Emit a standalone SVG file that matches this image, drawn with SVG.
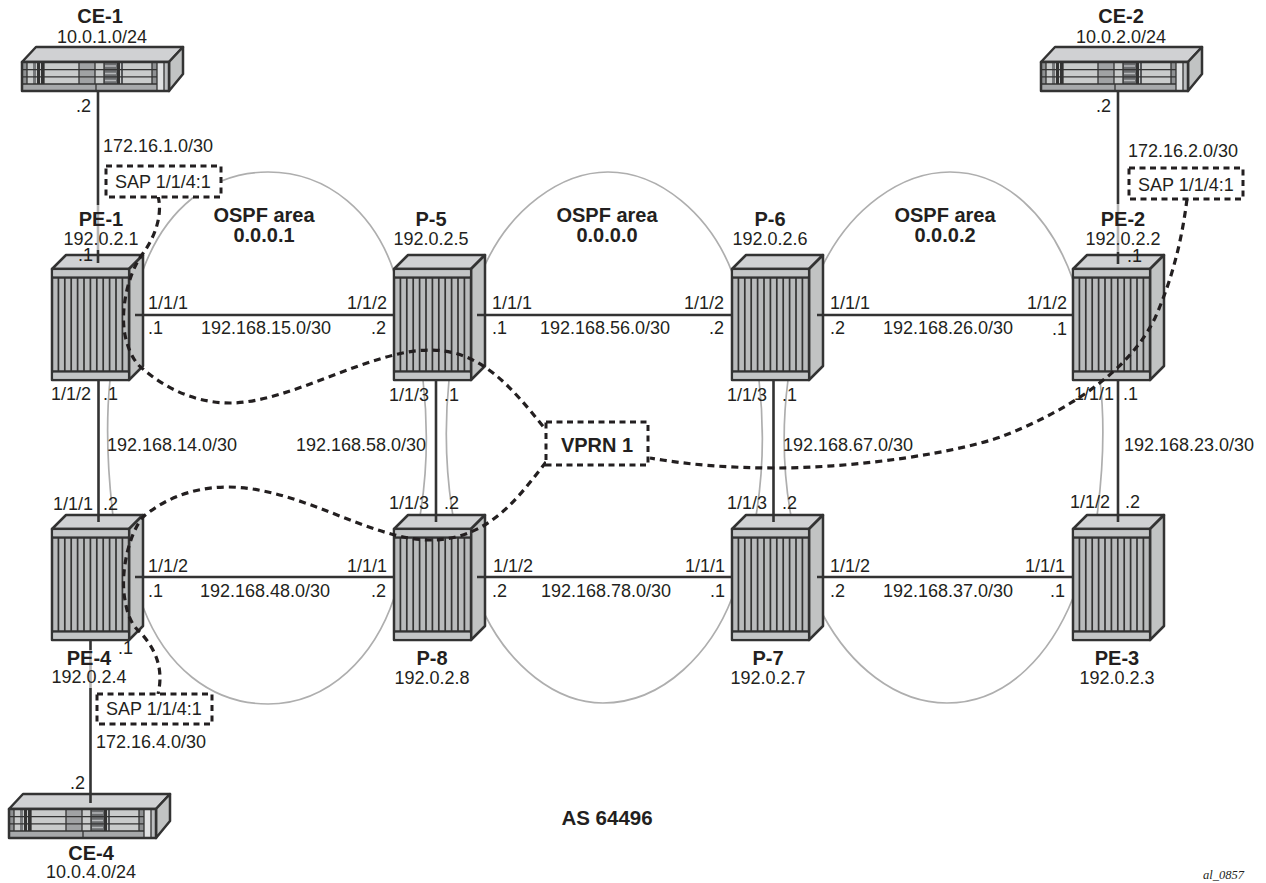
<svg xmlns="http://www.w3.org/2000/svg" xmlns:xlink="http://www.w3.org/1999/xlink" width="1266" height="883" viewBox="0 0 1266 883">
<style>
text{font-family:"Liberation Sans",Arial,sans-serif;font-size:18px;fill:#231f20}
.b{font-weight:bold;font-size:20px}
.m{text-anchor:middle}
.lnk{stroke:#333;stroke-width:2.6;fill:none}
.fade{stroke:#b5b5b5;stroke-width:2.6;fill:none}
.ospf{stroke:#aeaeae;stroke-width:1.7;fill:none}
.dash{stroke:#231f20;stroke-width:3.2;fill:none;stroke-dasharray:7 5}
.box{stroke:#231f20;stroke-width:3;fill:#fff;stroke-dasharray:6 4.5}
.e{stroke:#333;stroke-width:2.5;stroke-linejoin:round}
.t{stroke:#333;stroke-width:1.7}
.h{stroke:#333;stroke-width:1.3}
</style>
<defs>
<g id="router">
<polygon class="e" points="0,0 14,-14 91,-14 77,0" fill="#d0d1d3"/>
<polygon class="e" points="77,0 91,-14 91,97 77,111" fill="#c1c3c3"/>
<rect class="e" x="0" y="0" width="77" height="111" fill="#b9bbbc"/>
<path class="t" fill="none" d="M6.400 8V102M12.800 8V102M19.200 8V102M25.600 8V102M32 8V102M38.400 8V102M44.800 8V102M51.200 8V102M57.600 8V102M64 8V102M70.400 8V102"/>
<path class="e" fill="none" d="M0 8.500H77M0 102.500H77"/>
<rect x="1.200" y="1.200" width="74.600" height="6" fill="#c3c5c6"/>
<rect x="1.200" y="103.800" width="74.600" height="6" fill="#c3c5c6"/>
</g>
<g id="ce">
<polygon class="e" points="0,0 14,-15 161,-15 147,0" fill="#d0d1d3"/>
<polygon class="e" points="147,0 161,-15 161,12 147,29" fill="#c1c3c3"/>
<rect x="0" y="0" width="147" height="29" fill="#c9cbcb"/>
<rect x="0" y="0" width="5" height="22" fill="#8e9092"/>
<rect x="11" y="0" width="3" height="22" fill="#77797b"/>
<rect x="15" y="0" width="3" height="22" fill="#333"/>
<rect x="19" y="0" width="3" height="22" fill="#333"/>
<rect x="57" y="0" width="16" height="22" fill="#a0a2a4"/>
<rect x="82" y="0" width="13" height="22" fill="#6c6e70"/>
<rect x="95" y="0" width="3" height="22" fill="#333"/>
<rect x="99" y="0" width="2" height="22" fill="#55575a"/>
<rect x="130" y="0" width="5" height="22" fill="#8e9092"/>
<rect x="135" y="0" width="7" height="29" fill="#e0e1e2"/>
<rect x="142" y="0" width="5" height="29" fill="#bcbec0"/>
<rect x="0" y="22" width="135" height="7" fill="#a7a9ab"/>
<path class="h" fill="none" d="M0 7.600H135M0 14.800H135M0 22H135M74 22V29M135 0V29M142 0V29M5 0V22M22 0V22M57 0V22M73 0V22M82 0V22M130 0V22"/>
<path d="M83 4H94M83 11.500H94M83 18.500H94" stroke="#b5b7b9" stroke-width="1.400" fill="none"/>
<rect class="e" x="0" y="0" width="147" height="29" fill="none"/>
</g>
</defs>
<g id="ospf-links">
<path class="ospf" d="M143 270C165 210 210 172 268 172C330 172 375 215 394 272"/>
<path class="ospf" d="M485 265C510 210 560 172 608 172C660 172 710 215 732 272"/>
<path class="ospf" d="M823 265C850 210 900 172 950 172C1005 172 1050 215 1073 280"/>
<path class="ospf" d="M143 607C165 665 210 704 268 704C330 704 375 655 394 598"/>
<path class="ospf" d="M485 615C510 665 555 703 603 703C665 703 712 650 732 598"/>
<path class="ospf" d="M823 615C850 665 895 703 947 703C1010 703 1052 650 1073 598"/>
<path class="ospf" d="M110 380Q104 440 113 516"/>
<path class="ospf" d="M423 380Q431 450 420 516"/>
<path class="ospf" d="M449 380Q442 450 453 516"/>
<path class="ospf" d="M759 380Q767 450 756 516"/>
<path class="ospf" d="M788 380Q779 450 791 516"/>
<path class="ospf" d="M1100 380Q1107 440 1097 516"/>
</g>
<g id="CE-1"><use xlink:href="#ce" href="#ce" x="22" y="62"/></g>
<g id="CE-2"><use xlink:href="#ce" href="#ce" x="1041" y="62"/></g>
<g id="CE-4"><use xlink:href="#ce" href="#ce" x="9" y="809"/></g>
<g id="PE-1"><use xlink:href="#router" href="#router" x="52" y="269"/></g>
<g id="P-5"><use xlink:href="#router" href="#router" x="394" y="269"/></g>
<g id="P-6"><use xlink:href="#router" href="#router" x="732" y="269"/></g>
<g id="PE-2"><use xlink:href="#router" href="#router" x="1073" y="269"/></g>
<g id="PE-4"><use xlink:href="#router" href="#router" x="52" y="529"/></g>
<g id="P-8"><use xlink:href="#router" href="#router" x="394" y="529"/></g>
<g id="P-7"><use xlink:href="#router" href="#router" x="732" y="529"/></g>
<g id="PE-3"><use xlink:href="#router" href="#router" x="1073" y="529"/></g>
<g id="connectors">
<path class="fade" d="M98 205V250M1118 204V252M90.500 650V688"/>
<path class="lnk" d="M98 91V205M98 250V263M1118 91V204M1118 252V264M90.500 640V650M90.500 688V803"/>
<path class="lnk" d="M135 315H394M477 315H732M817 315H1073M135 577H394M477 577H732M817 577H1073"/>
<path class="lnk" d="M98.500 380V522M436 380V522M773.500 380V522M1118 380V522"/>
</g>
<g id="vpn-links">
<path class="dash" d="M158 196C163 215 155 238 141 256C128 275 120 310 125 335C129 355 138 366 143 369C165 388 195 403 230 403C290 403 370 350 430 350C480 350 510 385 546 430"/>
<path class="dash" d="M546 462C520 495 490 540 430 540C370 540 300 487 227 487C190 487 160 502 143 517C128 535 120 575 125 600C128 620 135 628 140 632C152 645 165 665 158 694"/>
<path class="dash" d="M1187 199C1182 240 1172 280 1155 318C1130 370 1070 410 1003 436C960 452 860 468 775 468C730 468 690 465 650 458"/>
</g>
<g id="SAP-1"><rect class="box" x="106" y="166" width="115" height="31"/><text x="115" y="188">SAP 1/1/4:1</text></g>
<g id="SAP-2"><rect class="box" x="1129" y="168" width="114" height="31"/><text x="1138" y="191">SAP 1/1/4:1</text></g>
<g id="SAP-4"><rect class="box" x="97" y="694" width="115" height="30"/><text x="106" y="715">SAP 1/1/4:1</text></g>
<g id="VPRN-1"><rect class="box" x="546" y="422" width="102" height="43"/><text class="b m" x="597" y="452">VPRN 1</text></g>
<g id="node-labels">
<text class="b m" x="100" y="23">CE-1</text><text class="m" x="102" y="43">10.0.1.0/24</text>
<text class="b m" x="1121" y="23">CE-2</text><text class="m" x="1121" y="43">10.0.2.0/24</text>
<text class="b m" x="91" y="860">CE-4</text><text class="m" x="91" y="878">10.0.4.0/24</text>
<text class="b m" x="101" y="226">PE-1</text><text class="m" x="101" y="245">192.0.2.1</text>
<text class="b m" x="431" y="226">P-5</text><text class="m" x="431" y="245">192.0.2.5</text>
<text class="b m" x="770" y="226">P-6</text><text class="m" x="770" y="245">192.0.2.6</text>
<text class="b m" x="1123" y="226">PE-2</text><text class="m" x="1123" y="245">192.0.2.2</text>
<text class="b m" x="89" y="665">PE-4</text><text class="m" x="89" y="683">192.0.2.4</text>
<text class="b m" x="432" y="665">P-8</text><text class="m" x="432" y="684">192.0.2.8</text>
<text class="b m" x="768" y="665">P-7</text><text class="m" x="768" y="684">192.0.2.7</text>
<text class="b m" x="1117" y="665">PE-3</text><text class="m" x="1117" y="684">192.0.2.3</text>
</g>
<g id="link-labels">
<text x="76" y="112">.2</text><text x="103" y="152">172.16.1.0/30</text>
<text x="1096" y="112">.2</text><text x="1128" y="157">172.16.2.0/30</text>
<text x="70" y="789">.2</text><text x="96" y="748">172.16.4.0/30</text>
<text x="78" y="261">.1</text><text x="1127" y="262">.1</text><text x="118" y="654">.1</text>
<text x="148" y="309">1/1/1</text><text x="148" y="334">.1</text><text x="201" y="334">192.168.15.0/30</text>
<text x="347" y="309">1/1/2</text><text x="371" y="334">.2</text>
<text x="492" y="309">1/1/1</text><text x="492" y="334">.1</text><text x="540" y="334">192.168.56.0/30</text>
<text x="684" y="309">1/1/2</text><text x="709" y="334">.2</text>
<text x="830" y="309">1/1/1</text><text x="830" y="334">.2</text><text x="883" y="334">192.168.26.0/30</text>
<text x="1027" y="309">1/1/2</text><text x="1052" y="335">.1</text>
<text x="51" y="400">1/1/2</text><text x="103" y="400">.1</text><text x="107" y="451">192.168.14.0/30</text>
<text x="53" y="510">1/1/1</text><text x="103" y="510">.2</text>
<text x="389" y="401">1/1/3</text><text x="444" y="401">.1</text><text x="296" y="451">192.168.58.0/30</text>
<text x="389" y="509">1/1/3</text><text x="444" y="509">.2</text>
<text x="727" y="401">1/1/3</text><text x="782" y="401">.1</text><text x="783" y="451">192.168.67.0/30</text>
<text x="727" y="509">1/1/3</text><text x="782" y="509">.2</text>
<text x="1074" y="400">1/1/1</text><text x="1123" y="400">.1</text><text x="1124" y="451">192.168.23.0/30</text>
<text x="1070" y="508">1/1/2</text><text x="1125" y="508">.2</text>
<text x="148" y="572">1/1/2</text><text x="148" y="597">.1</text><text x="200" y="597">192.168.48.0/30</text>
<text x="347" y="572">1/1/1</text><text x="371" y="597">.2</text>
<text x="493" y="572">1/1/2</text><text x="492" y="597">.2</text><text x="541" y="597">192.168.78.0/30</text>
<text x="685" y="572">1/1/1</text><text x="710" y="597">.1</text>
<text x="830" y="572">1/1/2</text><text x="830" y="597">.2</text><text x="883" y="597">192.168.37.0/30</text>
<text x="1025" y="572">1/1/1</text><text x="1050" y="597">.1</text>
</g>
<g id="annotations">
<text class="b m" x="264" y="222">OSPF area</text><text class="b m" x="264" y="242">0.0.0.1</text>
<text class="b m" x="607" y="222">OSPF area</text><text class="b m" x="607" y="242">0.0.0.0</text>
<text class="b m" x="945" y="222">OSPF area</text><text class="b m" x="945" y="242">0.0.0.2</text>
<text class="b m" x="607" y="825" style="font-size:20.500px">AS 64496</text>
<text x="1244" y="879" text-anchor="end" style="font-family:'Liberation Serif',serif;font-style:italic;font-size:12.500px">al_0857</text>
</g>
</svg>
